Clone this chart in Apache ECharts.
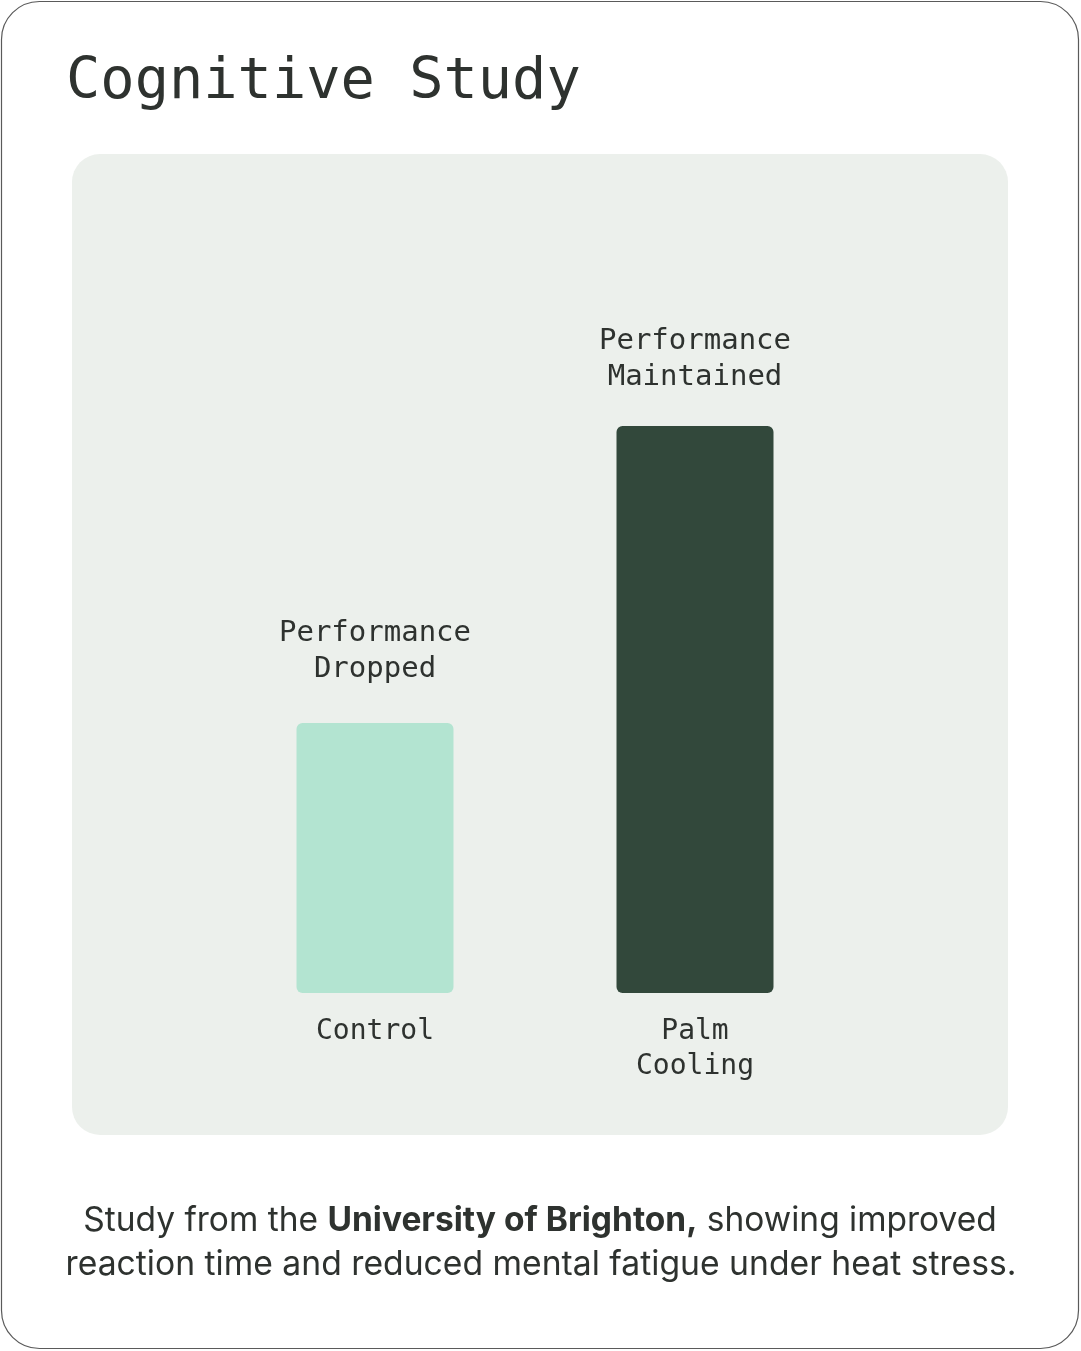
<!DOCTYPE html>
<html>
<head>
<meta charset="utf-8">
<title>Cognitive Study</title>
<script src="https://cdn.jsdelivr.net/npm/echarts@6/dist/echarts.min.js"></script>
<style>
  html, body { margin: 0; padding: 0; background: #ffffff; }
  #chart { width: 1081px; height: 1351px; }
</style>
</head>
<body>
<div id="chart"></div>
<script>
// groups and their (relative) performance scores
var categories = ['Control', 'Palm\nCooling'];
var scores = [47.6, 100];
var notes = ['Performance\nDropped', 'Performance\nMaintained'];
var barColors = ['#b3e4d1', '#32483b'];

var chart = echarts.init(document.getElementById('chart'));
var ink = '#2e322f';
var mono = '"DejaVu Sans Mono", "Liberation Mono", monospace';
var sans = 'Inter, "Open Sans", sans-serif';
var noteGap = [36, 31];

var option = {
    backgroundColor: '#ffffff',
    animation: false,
    title: {
        text: 'Cognitive Study',
        left: 61,
        top: 50,
        textStyle: { fontFamily: mono, fontSize: 57, fontWeight: 'normal', color: ink }
    },
    graphic: [
        {
            type: 'rect', z: -10,
            shape: { x: 1.5, y: 1.5, width: 1077, height: 1347, r: 38 },
            style: { fill: '#ffffff', stroke: '#5a5a5a', lineWidth: 1.2 }
        },
        {
            type: 'rect', z: -9,
            shape: { x: 72, y: 154, width: 936, height: 981, r: 28 },
            style: { fill: '#ecf0ec' }
        },
        {
            type: 'text', z: 10,
            x: 540, y: 1221,
            style: {
                text: '{n|Study from the }{b|University of Brighton,}{n| showing improved}',
                align: 'center', verticalAlign: 'middle',
                fill: ink,
                rich: {
                    n: { fontFamily: sans, fontSize: 33.5, fill: ink },
                    b: { fontFamily: sans, fontSize: 33.5, fontWeight: 'bold', fill: ink }
                }
            }
        },
        {
            type: 'text', z: 10,
            x: 541, y: 1265,
            style: {
                text: 'reaction time and reduced mental fatigue under heat stress.',
                align: 'center', verticalAlign: 'middle',
                fontFamily: sans, fontSize: 33.7, fill: ink
            }
        }
    ],
    grid: { left: 215, right: 226, top: 426, bottom: 358 },
    xAxis: {
        type: 'category',
        data: categories,
        axisLine: { show: false },
        axisTick: { show: false },
        axisLabel: {
            margin: 21,
            fontFamily: mono, fontSize: 28, color: ink, lineHeight: 35
        }
    },
    yAxis: {
        type: 'value', min: 0, max: 100,
        show: false,
        splitLine: { show: false }
    },
    series: [{
        type: 'bar',
        barWidth: 157,
        data: scores.map(function (v, i) {
            return { value: v, itemStyle: { color: barColors[i] }, label: { distance: noteGap[i] } };
        }),
        itemStyle: { borderRadius: 6 },
        label: {
            show: true,
            position: 'top',
            formatter: function (p) { return notes[p.dataIndex]; },
            fontFamily: mono, fontSize: 29, color: ink, lineHeight: 36, align: 'center'
        }
    }]
};

chart.setOption(option);
</script>
</body>
</html>
